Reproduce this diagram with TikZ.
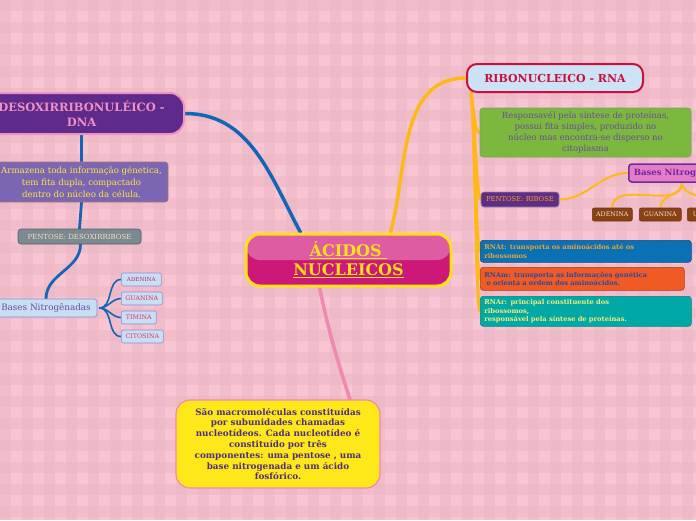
\documentclass[tikz,border=0pt]{standalone}
\usepackage{fontspec}
\setmainfont{DejaVu Serif}
\usetikzlibrary{positioning, backgrounds}

\definecolor{bgpink}{HTML}{F8C6D2}
\definecolor{bgband}{HTML}{EDB6C5}
\definecolor{linhadna}{HTML}{1565B5}
\definecolor{linharna}{HTML}{FFB81A}
\definecolor{linharosa}{HTML}{F088B0}
\definecolor{amarelo}{HTML}{FFE21A}
\definecolor{centrotopo}{HTML}{DE5CA2}
\definecolor{centrobase}{HTML}{CC1878}
\definecolor{roxodna}{HTML}{5E2A8C}
\definecolor{rosadna}{HTML}{F090C0}
\definecolor{lilas}{HTML}{7B66B4}
\definecolor{cinza}{HTML}{7A8A90}
\definecolor{azulclaro}{HTML}{C8DFF3}
\definecolor{bordaazul}{HTML}{8C8CD0}
\definecolor{roxotexto}{HTML}{6A4AA0}
\definecolor{vermelho}{HTML}{E0306A}
\definecolor{carmim}{HTML}{C8103C}
\definecolor{verde}{HTML}{7DB83E}
\definecolor{roxorib}{HTML}{5E2E82}
\definecolor{laranja}{HTML}{F0A030}
\definecolor{rosaforte}{HTML}{E67CC8}
\definecolor{roxoborda}{HTML}{6A2C9C}
\definecolor{marrom}{HTML}{8A4214}
\definecolor{creme}{HTML}{F6E0C8}
\definecolor{azulrna}{HTML}{0A72B4}
\definecolor{laranjarna}{HTML}{F05A24}
\definecolor{azultexto}{HTML}{2A4C9C}
\definecolor{teal}{HTML}{00A9A6}
\definecolor{amarelofundo}{HTML}{FFE81A}
\definecolor{roxoescuro}{HTML}{4E2E7E}

\tikzset{
  % --- Ligacoes ---------------------------------------------
  mapline/.style={line width=3.5pt, line cap=round},
  dnaline/.style={mapline, draw=linhadna},
  dnafino/.style={line width=1.6pt, draw=linhadna},
  rnaline/.style={mapline, draw=linharna},
  rnafino/.style={line width=2pt, draw=linharna},
  % --- Topicos ----------------------------------------------
  central/.style={draw=amarelo, line width=3pt, rounded corners=14pt,
    fill=centrobase, minimum width=205pt, minimum height=52pt,
    path picture={\fill[centrotopo] (path picture bounding box.north west)
      rectangle (path picture bounding box.east);},
    text=amarelo, align=center, inner sep=0pt,
    font=\bfseries\fontsize{16}{19}\selectfont},
  topico/.style={line width=2pt, rounded corners=14pt, align=center,
    inner sep=0pt, font=\bfseries\fontsize{11.5}{15}\selectfont},
  % --- Caixas -----------------------------------------------
  caixa/.style={draw, rounded corners=3pt, align=center, inner sep=0pt,
    line width=0.6pt},
  etiq/.style={caixa, rounded corners=2pt, minimum height=13pt,
    font=\fontsize{6.3}{7}\selectfont},
  faixa/.style={caixa, anchor=north west, align=left, inner xsep=4pt,
    text width=203pt, font=\bfseries\fontsize{6.7}{8.6}\selectfont}
}

\begin{document}
\begin{tikzpicture}[x=1pt, y=1pt]
  \useasboundingbox (0,0) rectangle (696,-520);

  % ---------- Fundo xadrez ----------
  \begin{scope}[on background layer]
    \fill[bgpink] (0,0) rectangle (696,-520);
    \foreach \k in {0,22,...,690} {
      \fill[bgband, opacity=0.55] (\k,0) rectangle +(11,-520);
    }
    \foreach \k in {0,22,...,516} {
      \fill[bgband, opacity=0.55] (0,-\k) rectangle +(696,-11);
    }
  \end{scope}

  % ---------- Topico central ----------
  \node[central] (acidos) at (348.5,-260)
    {\underline{ÁCIDOS\ }\\\underline{NUCLEICOS}};

  % ---------- Ramo DNA ----------
  \node[topico, draw=rosadna, fill=roxodna, text=rosadna,
        minimum width=205pt, minimum height=41pt] (dna) at (81.5,-113.5)
    {DESOXIRRIBONULÉICO -\\DNA};
  \node[caixa, draw=lilas!60!orange, fill=lilas, text=amarelo!85!white,
        minimum width=173pt, minimum height=40pt,
        font=\fontsize{8.6}{12.2}\selectfont] (dnadesc) at (81.5,-182)
    {Armazena toda informação génetica,\\tem fita dupla, compactado\\
     dentro do núcleo da célula.};
  \node[caixa, draw=cinza!70!black, fill=cinza, text=creme,
        minimum width=123pt, minimum height=15pt,
        font=\fontsize{7}{8}\selectfont] (pentdna) at (79.5,-236.5)
    {PENTOSE: DESOXIRRIBOSE};
  \node[caixa, draw=bordaazul, fill=azulclaro, text=roxotexto,
        minimum width=102pt, minimum height=18pt,
        font=\fontsize{8.8}{10}\selectfont] (basesdna) at (46,-308)
    {Bases Nitrogênadas};
  \node[etiq, draw=bordaazul, fill=azulclaro, text=vermelho!70!violet,
        anchor=west, minimum width=40pt] (adenina) at (121,-279.5)
    {\fontsize{5.6}{6}\selectfont ADENINA};
  \node[etiq, draw=bordaazul, fill=azulclaro, text=vermelho,
        anchor=west, minimum width=41pt] (guanina) at (121,-298.5) {GUANINA};
  \node[etiq, draw=bordaazul, fill=azulclaro, text=vermelho,
        anchor=west, minimum width=35pt] (timina) at (121,-317.5) {TIMINA};
  \node[etiq, draw=bordaazul, fill=azulclaro, text=vermelho,
        anchor=west, minimum width=42pt] (citosina) at (121,-336.5) {CITOSINA};

  % ---------- Ramo RNA ----------
  \node[topico, draw=carmim, fill=azulclaro!90!white, text=carmim,
        rounded corners=10pt, minimum width=176pt, minimum height=28pt,
        font=\bfseries\fontsize{11}{13}\selectfont] (rna) at (555,-78)
    {RIBONUCLEICO - RNA};
  \node[caixa, draw=verde!50!gray, fill=verde, text=roxotexto,
        minimum width=211pt, minimum height=49pt,
        font=\fontsize{8.5}{11.2}\selectfont] (rnadesc) at (585.5,-132.5)
    {Responsavél pela síntese de proteínas,\\possui fita simples, produzido no\\
     núcleo mas encontra-se disperso no\\citoplasma};
  \node[caixa, draw=roxorib!60!white, fill=roxorib, text=laranja,
        minimum width=78pt, minimum height=15pt,
        font=\fontsize{6.8}{8}\selectfont] (pentrna) at (520,-199.5)
    {PENTOSE: RIBOSE};
  \node[caixa, draw=roxoborda, line width=1.5pt, fill=rosaforte,
        text=roxoborda, anchor=west, minimum height=18pt, inner xsep=5pt,
        font=\bfseries\fontsize{8.6}{10}\selectfont] (basesrna) at (628,-173)
    {Bases Nitrogênadas};
  \node[etiq, draw=marrom!80!black, fill=marrom, text=creme,
        anchor=west, minimum width=40pt] (adeninarna) at (592,-214.5) {ADENINA};
  \node[etiq, draw=marrom!80!black, fill=marrom, text=creme,
        anchor=west, minimum width=42pt] (guaninarna) at (639,-214.5) {GUANINA};
  \node[etiq, draw=marrom!80!black, fill=marrom, text=creme,
        anchor=west, minimum width=42pt] (uracila) at (687,-214.5) {URACILA};
  \node[faixa, draw=azulrna!70!black, fill=azulrna, text=laranja,
        minimum height=22pt] (rnat) at (480,-240)
    {RNAt: transporta os aminoácidos até os\\ribossomos};
  \node[faixa, draw=laranjarna!70!black, fill=laranjarna, text=azultexto,
        text width=196pt, minimum height=23pt] (rnam) at (480,-267)
    {RNAm: transporta as informações genética\\\ e orienta a ordem dos aminoácidos.};
  \node[faixa, draw=teal!80!black, fill=teal, text=creme!60!yellow,
        minimum height=30pt] (rnar) at (480,-296)
    {RNAr: principal constituente dos\\ribossomos,\\
     responsável pela síntese de proteínas.};

  % ---------- Definicao ----------
  \node[caixa, draw=linharosa, line width=1.2pt, fill=amarelofundo,
        text=roxoescuro, rounded corners=14pt, minimum width=204pt,
        minimum height=88pt,
        font=\bfseries\fontsize{8.8}{10.8}\selectfont] (defin) at (278,-444)
    {São macromoléculas constituídas\\por subunidades chamadas\\
     nucleotídeos. Cada nucleotídeo é\\constituído por três\\
     componentes: uma pentose , uma\\base nitrogenada e um ácido\\fosfórico.};

  % ---------- Ligacoes ----------
  \begin{scope}[on background layer]
    \draw[dnaline] (dna.east) to[out=0, in=118] ([xshift=-48pt]acidos.north);
    \draw[dnaline, line width=2.8pt] (dna.south) -- (dnadesc.north);
    \draw[dnaline, line width=2.8pt] (dnadesc.south) -- (pentdna.north);
    \draw[dnaline, line width=2.8pt] ([xshift=1pt]pentdna.south)
      to[out=-90, in=90] (basesdna.north);
    \foreach \b in {adenina, guanina, timina, citosina}
      \draw[dnafino] ([xshift=2pt]basesdna.east) to[out=0, in=180] (\b.west);

    \draw[rnaline] ([xshift=42pt]acidos.north) to[out=75, in=180] (rna.west);
    \foreach \r in {rnadesc, pentrna, rnat, rnam, rnar}
      \draw[rnaline, line width=3pt] ([xshift=5pt]rna.south west)
        .. controls +(4,-30) and +(-4,0) .. (\r.west);
    \draw[rnafino] (pentrna.east) to[out=0, in=180] (basesrna.west);
    \foreach \u in {adeninarna, guaninarna, uracila}
      \draw[rnafino] ([xshift=54pt]basesrna.south west)
        to[out=-90, in=90] (\u.north);

    \draw[mapline, draw=linharosa] ([xshift=-29pt]acidos.south)
      to[out=-78, in=108] ([xshift=72pt]defin.north);
  \end{scope}

\end{tikzpicture}
\end{document}
